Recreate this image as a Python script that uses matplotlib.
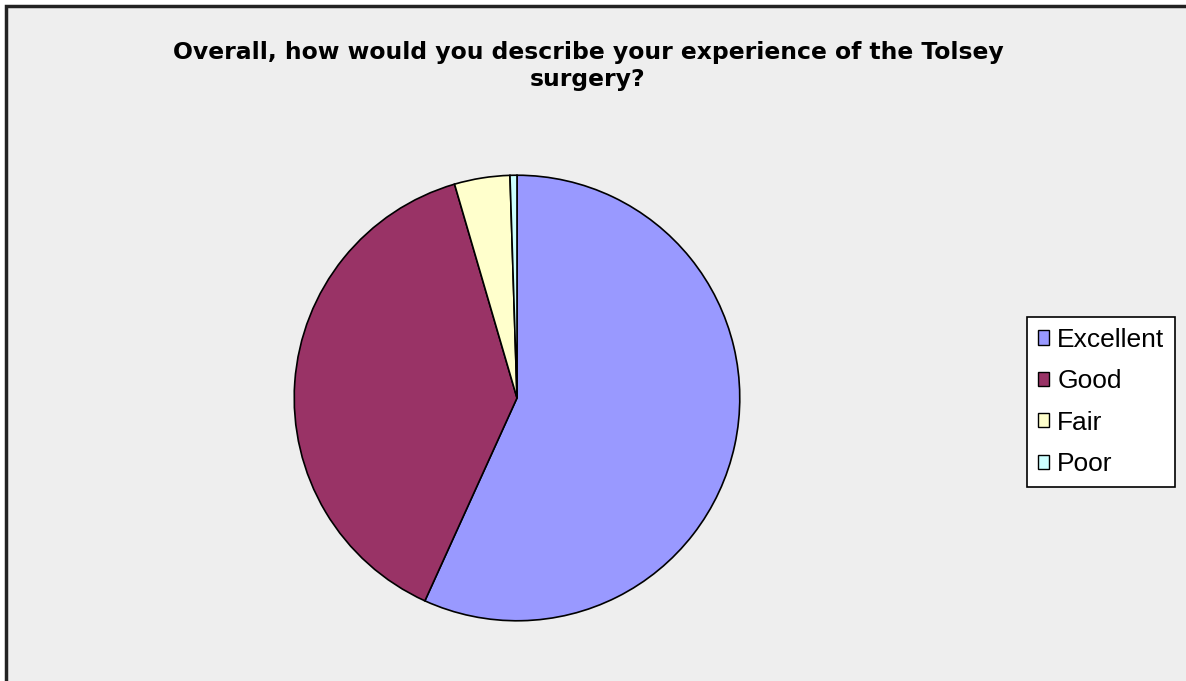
import matplotlib
matplotlib.use("Agg")
import matplotlib.pyplot as plt
from matplotlib.patches import Rectangle, Patch

labels = ["Excellent", "Good", "Fair", "Poor"]
counts = [113, 77, 8, 1]
colors = ["#9999FF", "#993366", "#FFFFCC", "#CCFFFF"]
title = "Overall, how would you describe your experience of the Tolsey\nsurgery?"

W, H = 1186, 681
fig = plt.figure(figsize=(W / 100, H / 100), dpi=100, facecolor="white")

# grey chart area with dark frame on left/top
fig.patches.append(Rectangle((6 / W, -0.01), 1.02, (H - 6) / H + 0.01,
                             transform=fig.transFigure, facecolor="#EEEEEE",
                             edgecolor="#222222", lw=2.5, zorder=-5))

cx, cy, r = 517, 398, 225
ax = fig.add_axes([(cx - r) / W, (H - cy - r) / H, 2 * r / W, 2 * r / H])
ax.set_zorder(2)
ax.patch.set_visible(False)
ax.pie(counts, colors=colors, startangle=90, counterclock=False,
       wedgeprops=dict(edgecolor="black", linewidth=1.2))
ax.set_xlim(-1.01, 1.01)
ax.set_ylim(-1.01, 1.01)
ax.set_aspect("auto")
ax.axis("off")

fig.text(588 / W, 1 - 66 / H, title, ha="center", va="center",
         fontsize=16.9, fontweight="bold", family="DejaVu Sans", linespacing=1.2)

handles = [Patch(facecolor=c, edgecolor="black", lw=1) for c in colors]
leg = fig.legend(handles, labels, loc="center left",
                 bbox_to_anchor=(1027 / W, 1 - 402 / H),
                 prop={"family": "Liberation Sans", "size": 19},
                 fancybox=False, framealpha=1, facecolor="white",
                 edgecolor="black", handlelength=0.45, handleheight=0.45,
                 handletextpad=0.3, labelspacing=0.66, borderpad=0.4,
                 borderaxespad=0)
leg.get_frame().set_linewidth(1.2)
leg.set_zorder(3)

fig.savefig("out.png", dpi=100, facecolor=fig.get_facecolor())
